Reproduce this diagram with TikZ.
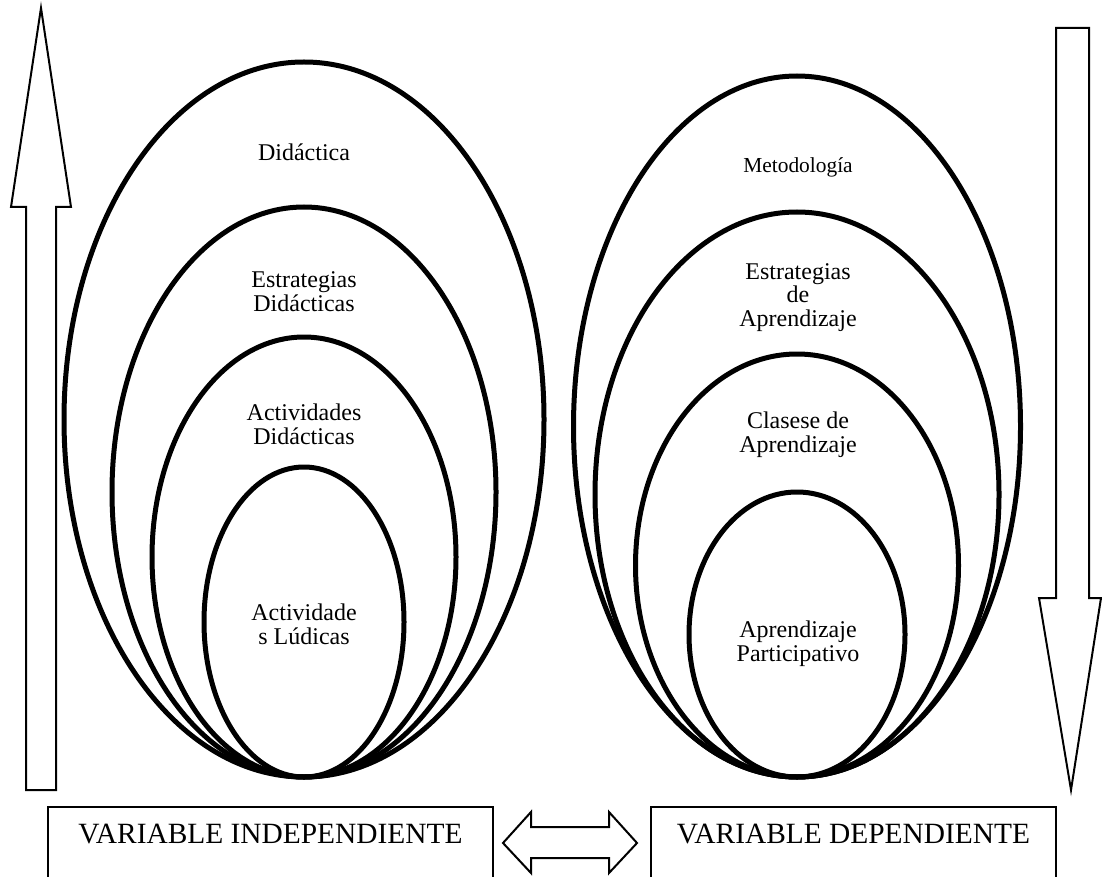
\documentclass[tikz,border=0pt]{standalone}
\usepackage{fontspec}
\setmainfont{Liberation Serif}
\usetikzlibrary{shapes.geometric}
\begin{document}
\begin{tikzpicture}[x=0.5pt,y=-0.5pt,
  ell/.style={draw, ellipse, line width=2.5pt, inner sep=0pt, outer sep=0pt},
  lbl/.style={align=center, font=\fontsize{12}{11.8}\selectfont, inner sep=0pt},
  smalllbl/.style={align=center, font=\fontsize{10.7}{11}\selectfont, inner sep=0pt},
  bigarrow/.style={draw, line width=1pt, line join=miter},
  varbox/.style={draw, line width=1pt},
  vartext/.style={font=\fontsize{14.7}{16}\selectfont, inner sep=0pt, anchor=base}]
\useasboundingbox (0,0) rectangle (1102,877);
\clip (0,0) rectangle (1102,877);
% left group of ellipses
\node[ell, minimum width=240pt, minimum height=357.5pt] (L1) at (304,419.5) {};
\node[ell, minimum width=192pt, minimum height=285pt] (L2) at (304,492) {};
\node[ell, minimum width=152pt, minimum height=220pt] (L3) at (304,557) {};
\node[ell, minimum width=100pt, minimum height=155pt] (L4) at (304,622) {};
% right group of ellipses
\node[ell, minimum width=223.5pt, minimum height=350.5pt] (R1) at (797,426.5) {};
\node[ell, minimum width=202pt, minimum height=282.5pt] (R2) at (797,494.5) {};
\node[ell, minimum width=161.5pt, minimum height=211.5pt] (R3) at (797,565.5) {};
\node[ell, minimum width=108pt, minimum height=142.5pt] (R4) at (797,634.5) {};
% labels
\node[lbl] (tL1) at (304,152) {Didáctica};
\node[lbl] (tL2) at (304,291.5) {Estrategias\\Didácticas};
\node[lbl] (tL3) at (304,424) {Actividades\\Didácticas};
\node[lbl] (tL4) at (304,624) {Actividade\\s Lúdicas};
\node[smalllbl] (tR1) at (798,167) {Metodología};
\node[lbl] (tR2) at (798,297.5) {Estrategias\\de\\Aprendizaje};
\node[lbl] (tR3) at (798,435) {Clasese de\\Aprendizaje};
\node[lbl] (tR4) at (798,644) {Aprendizaje\\Participativo};
% vertical arrows
\draw[bigarrow] (41,8) -- (71,207) -- (56,207) -- (56,790) -- (26,790) -- (26,207) -- (11,207) -- cycle;
\draw[bigarrow] (1056,28) -- (1089,28) -- (1089,598) -- (1101,598) -- (1071,790) -- (1039,598) -- (1056,598) -- cycle;
% boxes
\draw[varbox] (48,900) -- (48,807) -- (493,807) -- (493,900);
\draw[varbox] (651,900) -- (651,807) -- (1056,807) -- (1056,900);
\node[vartext] (vi) at (270.5,843) {VARIABLE INDEPENDIENTE};
\node[vartext] (vd) at (853.5,843) {VARIABLE DEPENDIENTE};
% double arrow
\draw[bigarrow] (503,843) -- (531,812) -- (531,827) -- (609,827) -- (609,812) -- (637,843) -- (609,873) -- (609,858) -- (531,858) -- (531,873) -- cycle;
\end{tikzpicture}
\end{document}
